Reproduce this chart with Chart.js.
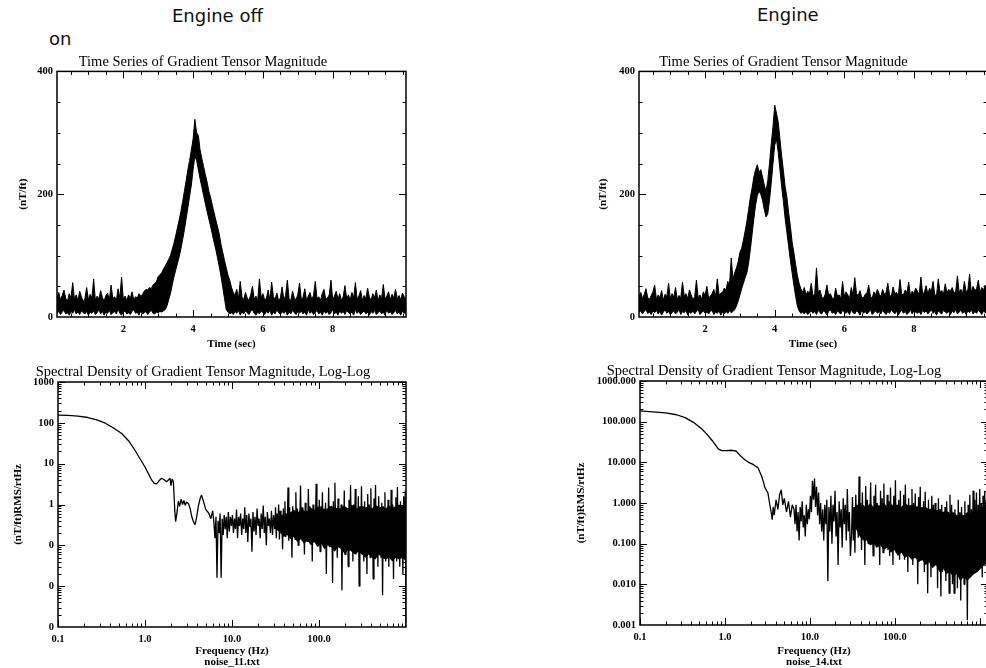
<!DOCTYPE html>
<html>
<head>
<meta charset="utf-8">
<script src="https://cdn.jsdelivr.net/npm/chart.js@4.4.0/dist/chart.umd.min.js"></script>
<style>
  html, body { margin: 0; padding: 0; background: #fff; }
  body { width: 986px; height: 668px; position: relative; overflow: hidden; }
  canvas { position: absolute; }
  .head { position: absolute; font-family: "DejaVu Sans", sans-serif; font-size: 18px; line-height: 18px; color: #111; white-space: nowrap; }
</style>
</head>
<body>
<div class="head" style="left:172px; top:7px">Engine off</div>
<div class="head" style="left:49px; top:30px">on</div>
<div class="head" style="left:757px; top:6px">Engine</div>
<canvas id="offTime" width="420" height="320" style="left:0; top:40px"></canvas>
<canvas id="onTime" width="430" height="320" style="left:580px; top:40px"></canvas>
<canvas id="offSpec" width="420" height="313" style="left:0; top:355px"></canvas>
<canvas id="onSpec" width="450" height="313" style="left:560px; top:355px"></canvas>
<script>
// time series envelopes (top and bottom of the noisy trace), every 0.05 s from 0.1 s
const timeStart = 0.1
const timeStep = 0.05

const offTimeUpper = [
  32, 40, 28, 35, 44, 30, 26, 38, 31, 56, 29, 36, 27, 42, 33, 25, 30, 48, 28, 37,
  31, 62, 27, 34, 29, 43, 32, 26, 35, 39, 28, 52, 30, 33, 27, 46, 31, 65, 29, 34,
  27, 36, 30, 41, 28, 33, 31, 38, 34, 37, 42, 45, 44, 48, 46, 52, 55, 58, 66, 69,
  72, 78, 83, 88, 94, 100, 110, 120, 132, 145, 158, 172, 188, 205, 222, 240, 255, 272, 290, 322,
  300, 296, 272, 258, 245, 232, 220, 205, 195, 182, 170, 158, 147, 135, 118, 105, 92, 80, 68, 60,
  48, 40, 36, 45, 30, 58, 33, 28, 40, 31, 27, 36, 50, 29, 34, 26, 62, 32, 38, 28,
  30, 44, 27, 57, 33, 29, 39, 26, 31, 49, 28, 35, 60, 30, 27, 42, 31, 28, 37, 55,
  29, 32, 46, 27, 34, 40, 28, 35, 58, 30, 33, 27, 38, 45, 29, 31, 36, 60, 28, 34,
  42, 29, 38, 27, 33, 51, 30, 36, 28, 40, 31, 56, 29, 34, 43, 27, 35, 30, 47, 32,
  28, 38, 31, 44, 27, 36, 30, 53, 29, 34, 41, 28, 37, 31, 45, 30, 35, 28, 39, 33,
  30
]
const offTimeLower = [
  6, 9, 4, 8, 11, 5, 7, 3, 9, 6, 12, 5, 8, 4, 10, 7, 5, 9, 3, 8,
  6, 10, 4, 7, 12, 5, 9, 3, 8, 6, 11, 4, 7, 9, 5, 13, 6, 3, 8, 10,
  5, 7, 4, 9, 12, 6, 8, 3, 10, 5, 7, 9, 4, 8, 11, 6, 5, 8, 7, 9,
  8, 10, 12, 18, 28, 38, 52, 65, 76, 87, 98, 111, 126, 142, 160, 178, 197, 215, 240, 262,
  255, 240, 225, 212, 198, 185, 172, 160, 148, 135, 122, 110, 96, 82, 66, 48, 30, 12, 8, 5,
  7, 4, 9, 6, 11, 3, 8, 5, 10, 7, 4, 9, 12, 6, 3, 8, 5, 10, 7, 4,
  9, 6, 11, 3, 8, 5, 12, 7, 4, 9, 6, 10, 3, 8, 5, 11, 7, 4, 9, 6,
  10, 5, 8, 3, 12, 6, 9, 4, 7, 11, 5, 8, 3, 10, 6, 9, 4, 7, 12, 5,
  8, 3, 10, 6, 9, 4, 11, 7, 5, 8, 3, 12, 6, 9, 4, 7, 10, 5, 8, 3,
  9, 6, 11, 4, 7, 10, 5, 8, 3, 12, 6, 9, 4, 7, 11, 5, 8, 3, 10, 6,
  7
]

const onTimeUpper = [
  34, 40, 30, 37, 46, 32, 28, 35, 41, 52, 29, 36, 31, 43, 27, 37, 33, 55, 30, 38,
  32, 48, 29, 35, 31, 57, 34, 38, 30, 44, 36, 28, 33, 60, 31, 36, 29, 41, 35, 50,
  31, 34, 38, 45, 33, 62, 36, 39, 40, 47, 44, 58, 52, 96, 62, 72, 80, 90, 105, 112,
  125, 140, 156, 175, 195, 210, 228, 240, 248, 236, 240, 228, 215, 205, 222, 250, 282, 310, 345, 332,
  318, 290, 262, 238, 212, 195, 170, 148, 122, 105, 86, 68, 55, 46, 40, 48, 36, 42, 38, 55,
  34, 38, 80, 40, 44, 33, 30, 37, 52, 35, 38, 31, 29, 47, 34, 36, 30, 58, 33, 41,
  36, 30, 48, 35, 64, 38, 35, 43, 32, 31, 37, 39, 52, 34, 30, 41, 36, 45, 38, 33,
  45, 37, 40, 55, 36, 33, 49, 38, 40, 35, 61, 37, 36, 44, 39, 57, 34, 42, 38, 47,
  42, 36, 65, 38, 40, 51, 37, 47, 41, 58, 36, 35, 62, 40, 43, 37, 54, 39, 45, 42,
  48, 39, 42, 67, 40, 45, 38, 58, 41, 44, 70, 39, 50, 43, 46, 60, 40, 48, 44, 52,
  45
]
const onTimeLower = [
  7, 10, 5, 9, 12, 6, 8, 4, 10, 7, 11, 5, 9, 3, 8, 12, 6, 9, 4, 7,
  10, 5, 8, 12, 4, 9, 7, 11, 3, 8, 6, 10, 5, 9, 12, 4, 7, 10, 6, 8,
  5, 9, 11, 4, 8, 6, 10, 3, 8, 5, 9, 6, 10, 7, 9, 12, 18, 26, 36, 46,
  55, 64, 72, 88, 110, 135, 160, 182, 198, 205, 200, 190, 175, 163, 168, 190, 218, 250, 280, 290,
  268, 240, 212, 188, 160, 138, 115, 92, 72, 52, 34, 18, 10, 6, 8, 5, 9, 4, 7, 10,
  6, 9, 4, 11, 7, 5, 10, 8, 3, 9, 12, 6, 8, 4, 10, 7, 5, 11, 8, 6,
  9, 4, 12, 7, 5, 10, 8, 3, 11, 6, 9, 5, 8, 12, 4, 7, 10, 6, 9, 5,
  11, 7, 4, 9, 6, 12, 8, 5, 10, 3, 8, 11, 6, 9, 4, 7, 12, 5, 10, 8,
  6, 9, 4, 11, 7, 10, 5, 8, 12, 6, 9, 3, 10, 7, 5, 11, 8, 6, 9, 4,
  10, 7, 12, 5, 8, 11, 6, 9, 4, 10, 7, 12, 5, 9, 6, 11, 8, 4, 10, 7,
  9
]

// spectra: smooth low-frequency part read point by point
const offLowFreq = [0.1, 0.13, 0.17, 0.22, 0.28, 0.35, 0.43, 0.54, 0.65, 0.77, 0.88, 1.0, 1.1, 1.19, 1.28, 1.36, 1.45, 1.55, 1.65, 1.77, 1.86, 1.94, 1.99, 2.05, 2.12, 2.2, 2.25, 2.32, 2.42, 2.5, 2.6, 2.7, 2.8, 2.9, 3.0, 3.16, 3.3, 3.45, 3.6, 3.76, 3.9, 4.1, 4.3, 4.47, 4.7, 5.0, 5.4, 5.7, 6.0]
const offLowPsd = [155, 152, 146, 135, 118, 98, 76, 55, 36, 21, 13, 8.3, 5.6, 4.0, 3.3, 3.2, 3.8, 4.4, 4.1, 3.6, 4.0, 4.4, 2.9, 4.2, 3.6, 0.7, 0.38, 0.6, 1.2, 0.9, 1.35, 1.0, 1.25, 0.95, 1.15, 1.05, 0.8, 0.5, 0.38, 0.32, 0.45, 0.9, 1.4, 1.7, 1.2, 0.75, 0.62, 0.45, 0.7]

// noisy parts, log-spaced bins between the range limits
const offMidRange = [6.2, 30]
const offMidPsd = [
  0.35, 0.15, 0.5, 0.016, 0.4, 0.2, 0.6, 0.016, 0.45, 0.18, 0.55, 0.25, 0.5, 0.15, 0.65, 0.22, 0.5, 0.3,
  0.55, 0.2, 0.45, 0.25, 0.75, 0.15, 0.5, 0.3, 0.6, 0.18, 0.45, 0.25, 0.85, 0.2, 0.55, 0.12, 0.6, 0.28,
  0.45, 0.07, 0.65, 0.22, 0.5, 0.18, 0.8, 0.3, 0.45, 0.15, 0.6, 0.25, 0.95, 0.2, 0.5, 0.1, 0.65, 0.3,
  0.45, 0.2, 0.7, 0.18, 0.55
]
const offHighRange = [31, 1000]
const offHighPsd = [
  0.25, 0.85, 0.15, 0.6, 0.3, 1.0, 0.14, 0.7, 0.25, 0.55,
  0.08, 0.8, 0.2, 1.2, 0.16, 0.6, 0.35, 2.6, 0.13, 0.85,
  0.22, 0.55, 0.05, 0.9, 0.3, 0.7, 0.14, 2.0, 0.2, 0.8,
  0.1, 0.6, 0.25, 2.9, 0.15, 0.85, 0.3, 0.5, 0.06, 1.1,
  0.2, 0.7, 0.12, 2.4, 0.25, 0.9, 0.14, 0.65, 0.04, 1.0,
  0.18, 0.75, 0.3, 3.2, 0.1, 0.8, 0.22, 1.3, 0.07, 0.9,
  0.15, 2.0, 0.12, 0.7, 0.3, 1.1, 0.02, 0.8, 0.2, 2.6,
  0.09, 0.9, 0.25, 0.6, 0.012, 1.2, 0.14, 3.4, 0.2, 0.7,
  0.05, 1.4, 0.12, 0.8, 0.3, 1.0, 0.008, 0.9, 0.15, 2.2,
  0.06, 0.85, 0.2, 0.6, 0.03, 1.3, 0.1, 3.0, 0.22, 0.7,
  0.04, 1.0, 0.12, 2.4, 0.06, 0.8, 0.25, 1.6, 0.01, 0.9,
  0.1, 2.8, 0.15, 0.65, 0.04, 1.2, 0.08, 0.75, 0.02, 1.8,
  0.2, 1.0, 0.05, 2.5, 0.12, 0.7, 0.015, 1.4, 0.1, 3.0,
  0.06, 0.9, 0.03, 1.6, 0.2, 0.8, 0.05, 1.1, 0.006, 0.9,
  0.12, 2.0, 0.04, 0.75, 0.18, 1.3, 0.03, 0.85, 0.1, 2.3,
  0.05, 1.0, 0.015, 0.7, 0.14, 1.5, 0.04, 2.7, 0.08, 0.8,
  0.03, 1.2, 0.11, 0.9, 0.02, 1.6, 0.07, 2.2, 0.001
]
// dense core of the noise where the trace is solid black
const offBandRange = [30, 1000]
const offBandUpper = [0.3, 0.42, 0.5, 0.6, 0.55, 0.65, 0.75, 0.6, 0.8, 0.7, 0.65, 0.85, 0.7, 0.9, 0.75, 0.8, 0.7, 0.95, 0.8, 0.85, 0.75, 0.9, 0.8, 1.0, 0.85, 0.8, 0.95, 0.85, 0.9, 0.8, 1.0, 0.85, 0.9, 0.8, 0.95, 0.85, 0.9, 1.0, 0.85, 0.9]
const offBandLower = [0.3, 0.24, 0.2, 0.16, 0.18, 0.14, 0.16, 0.12, 0.14, 0.11, 0.13, 0.1, 0.12, 0.09, 0.11, 0.08, 0.1, 0.09, 0.07, 0.09, 0.08, 0.06, 0.08, 0.07, 0.06, 0.07, 0.06, 0.05, 0.06, 0.05, 0.045, 0.06, 0.05, 0.045, 0.05, 0.04, 0.05, 0.045, 0.05, 0.04]

const onLowFreq = [0.1, 0.14, 0.2, 0.27, 0.34, 0.43, 0.54, 0.63, 0.71, 0.78, 0.84, 0.92, 1.03, 1.2, 1.35, 1.5, 1.7, 1.9, 2.14, 2.3, 2.45, 2.55, 2.7, 2.85, 2.95, 3.1, 3.2, 3.35, 3.5, 3.6, 3.7, 3.8, 4.0, 4.2, 4.4, 4.6, 4.8, 5.0, 5.3, 5.6, 5.9, 6.2]
const onLowPsd = [185, 175, 165, 148, 126, 95, 65, 46, 34, 26, 21, 19.5, 19.5, 19.8, 19, 15, 11.8, 10, 8.9, 8.0, 7.4, 6.0, 4.6, 3.2, 2.4, 2.0, 1.8, 1.0, 0.6, 0.39, 0.8, 0.5, 1.2, 0.7, 1.6, 2.1, 0.9, 1.3, 0.6, 1.1, 0.45, 0.9]

const onMidRange = [6.5, 30]
const onMidPsd = [
  0.7, 0.3, 0.9, 0.2, 0.6, 0.12, 0.8, 0.35, 1.1, 0.25, 0.5, 0.15, 0.9, 0.3, 0.7, 0.4,
  1.5, 0.6, 3.5, 1.2, 4.0, 0.8, 2.5, 0.5, 1.8, 0.3, 1.0, 0.2, 0.7, 0.12, 0.9,
  0.3, 1.2, 0.012, 0.8, 0.2, 1.5, 0.1, 0.9, 0.35, 2.0, 0.15, 0.6, 0.03, 1.1, 0.25, 0.7, 0.08, 1.3,
  0.3, 0.9, 0.12, 2.2, 0.2, 0.6, 0.05
]
const onHighRange = [31, 1250]
const onHighPsd = [
  0.2, 1.4, 0.12, 0.8, 0.06, 1.6, 0.25, 0.9, 0.14, 4.5,
  0.3, 1.0, 0.07, 1.8, 0.15, 0.7, 0.03, 2.6, 0.2, 1.2,
  0.1, 0.9, 0.3, 3.2, 0.12, 0.6, 0.05, 1.5, 0.18, 2.8,
  0.08, 1.0, 0.25, 0.7, 0.03, 2.0, 0.14, 1.3, 0.06, 3.0,
  0.2, 0.8, 0.1, 1.6, 0.07, 1.1, 0.05, 2.4, 0.15, 0.8,
  0.03, 1.5, 0.1, 3.6, 0.06, 0.9, 0.2, 1.2, 0.04, 2.0,
  0.09, 0.7, 0.12, 1.6, 0.04, 2.8, 0.1, 0.9, 0.02, 1.3,
  0.06, 0.8, 0.18, 2.2, 0.03, 1.0, 0.08, 1.7, 0.05, 0.6,
  0.01, 1.4, 0.11, 2.5, 0.04, 0.8, 0.07, 1.1, 0.02, 1.9,
  0.09, 0.7, 0.006, 1.2, 0.05, 0.6, 0.015, 1.5, 0.07, 0.9,
  0.03, 1.0, 0.04, 0.55, 0.008, 1.3, 0.06, 0.7, 0.005, 0.9,
  0.02, 0.5, 0.03, 0.8, 0.012, 1.1, 0.04, 0.6, 0.006, 1.6,
  0.03, 0.9, 0.01, 0.5, 0.006, 0.7, 0.02, 0.45, 0.008, 1.2,
  0.025, 0.6, 0.004, 0.8, 0.03, 0.5, 0.01, 1.1, 0.02, 0.4,
  0.0013, 0.9, 0.03, 1.6, 0.015, 0.7, 0.05, 2.0, 0.02, 1.2,
  0.04, 1.8, 0.03, 0.9, 0.08, 2.2, 0.04, 1.0, 0.015, 1.5,
  0.03, 2.0, 0.05, 1.2, 0.02, 1.8
]
const onBandRange = [32, 1250]
const onBandUpper = [0.35, 0.55, 0.7, 0.9, 0.75, 1.0, 0.8, 0.9, 0.85, 1.0, 0.8, 0.95, 0.85, 0.9, 0.8, 1.0, 0.85, 0.9, 0.8, 0.85, 0.75, 0.8, 0.7, 0.75, 0.65, 0.7, 0.6, 0.65, 0.55, 0.6, 0.5, 0.55, 0.5, 0.6, 0.55, 0.7, 0.65, 0.8, 0.75, 0.9]
const onBandLower = [0.35, 0.22, 0.15, 0.12, 0.12, 0.09, 0.1, 0.08, 0.09, 0.07, 0.08, 0.06, 0.07, 0.05, 0.06, 0.045, 0.05, 0.04, 0.045, 0.035, 0.04, 0.03, 0.035, 0.025, 0.03, 0.02, 0.025, 0.018, 0.02, 0.015, 0.018, 0.012, 0.015, 0.012, 0.015, 0.018, 0.02, 0.025, 0.03, 0.035]

// axis ticks and their printed labels
const timeTicks = [2, 4, 6, 8]
const timeLabels = ['2', '4', '6', '8']
const fieldTicks = [0, 200, 400]
const fieldLabels = ['0', '200', '400']
const freqTicks = [0.1, 1, 10, 100]
const freqLabels = ['0.1', '1.0', '10.0', '100.0']
const psdTicks = [0.001, 0.01, 0.1, 1, 10, 100, 1000]
const offPsdLabels = ['0', '0', '0', '1', '10', '100', '1000']
const onPsdLabels = ['0.001', '0.010', '0.100', '1.000', '10.000', '100.000', '1000.000']

Chart.defaults.font.family = '"Liberation Serif", "Times New Roman", serif'
Chart.defaults.color = '#000'
Chart.defaults.animation = false

const timePoints = vals => vals.map((v, i) => ({ x: timeStart + i * timeStep, y: v }))

const logBins = (range, vals) => vals.map((v, i) => ({
  x: range[0] * Math.pow(range[1] / range[0], i / (vals.length - 1)), y: v
}))

// low part as read, then each noisy segment on log-spaced bins
function spectrumPoints(lowFreq, lowPsd, segments) {
  let pts = lowFreq.map((f, i) => ({ x: f, y: lowPsd[i] }))
  segments.forEach(([range, vals]) => { pts = pts.concat(logBins(range, vals)) })
  return pts
}

// filled band between a lower and an upper trace
function bandSets(lower, upper, edgeWidth) {
  return [
    { data: lower, borderColor: '#000', borderWidth: edgeWidth, pointRadius: 0, tension: 0, fill: false },
    { data: upper, borderColor: '#000', borderWidth: edgeWidth, pointRadius: 0, tension: 0,
      fill: '-1', backgroundColor: '#000' }
  ]
}

// tick positions for the inward ticks of the box
function linearMarks(step, from, to) {
  const out = []
  for (let v = from; v <= to + 1e-9; v += step) out.push(v)
  return out
}
function logMinor(lo, hi) {
  const out = []
  for (let d = lo; d < hi; d *= 10) {
    for (let k = 2; k <= 9; k++) out.push(d * k)
  }
  return out
}

// IDL style frame: closed box with ticks pointing inwards on all sides
function boxPlugin(marks) {
  return {
    id: 'idlBox',
    afterDraw(chart) {
      const { ctx, chartArea: a, scales } = chart
      ctx.save()
      ctx.strokeStyle = '#000'
      ctx.lineWidth = 1.5
      ctx.strokeRect(a.left, a.top, a.right - a.left, a.bottom - a.top)
      ctx.lineWidth = 1
      const draw = (scale, vals, len) => {
        ctx.beginPath()
        vals.forEach(v => {
          const p = Math.round(scale.getPixelForValue(v)) + 0.5
          if (scale.isHorizontal()) {
            if (p < a.left || p > a.right) return
            ctx.moveTo(p, a.bottom); ctx.lineTo(p, a.bottom - len)
            ctx.moveTo(p, a.top); ctx.lineTo(p, a.top + len)
          } else {
            if (p < a.top || p > a.bottom) return
            ctx.moveTo(a.left, p); ctx.lineTo(a.left + len, p)
            ctx.moveTo(a.right, p); ctx.lineTo(a.right - len, p)
          }
        })
        ctx.stroke()
      }
      draw(scales.x, marks.xMajor, 7)
      draw(scales.x, marks.xMinor, 3.5)
      draw(scales.y, marks.yMajor, 7)
      draw(scales.y, marks.yMinor, 3.5)
      ctx.restore()
    }
  }
}

function makePanel(id, p) {
  return new Chart(document.getElementById(id), {
    type: 'line',
    data: { datasets: p.datasets },
    options: {
      responsive: false,
      events: [],
      layout: { padding: { left: 0, right: p.padRight, top: 0, bottom: 0 } },
      elements: { line: { borderJoinStyle: 'bevel' } },
      plugins: {
        legend: { display: false },
        tooltip: { enabled: false },
        title: {
          display: true, text: p.title, color: '#000',
          font: { size: 14.5, weight: 'normal' },
          padding: p.titlePad
        }
      },
      scales: {
        x: {
          type: p.xType, min: p.xMin, max: p.xMax,
          grid: { display: false, drawTicks: false },
          border: { display: false },
          afterBuildTicks: s => { s.ticks = p.xTicks.map(v => ({ value: v })) },
          afterFit: s => { s.height = p.xAxisHeight },
          ticks: {
            padding: 6, autoSkip: false, maxRotation: 0,
            font: { size: 10.5, weight: 'bold' },
            callback: (v, i) => p.xLabels[i]
          },
          title: {
            display: true, text: p.xTitle,
            font: { size: 11, weight: 'bold', lineHeight: p.xTitleLine },
            padding: { top: 0, bottom: p.xTitlePad }
          }
        },
        y: {
          type: p.yType, min: p.yMin, max: p.yMax,
          grid: { display: false, drawTicks: false },
          border: { display: false },
          afterBuildTicks: s => { s.ticks = p.yTicks.map(v => ({ value: v })) },
          afterFit: s => { s.width = p.yAxisWidth },
          ticks: {
            padding: 4, autoSkip: false,
            font: { size: 10.5, weight: 'bold' },
            callback: (v, i) => p.yLabels[i]
          },
          title: {
            display: true, text: p.yTitle,
            font: { size: 11, weight: 'bold' },
            padding: { top: p.yTitlePad, bottom: 0 }
          }
        }
      }
    },
    plugins: [boxPlugin(p.marks)]
  })
}

const timeMarks = {
  xMajor: timeTicks,
  xMinor: linearMarks(0.5, 0.5, 10),
  yMajor: fieldTicks,
  yMinor: linearMarks(50, 50, 350)
}
const specMarks = {
  xMajor: [0.1, 1, 10, 100, 1000],
  xMinor: logMinor(0.1, 1000),
  yMajor: psdTicks,
  yMinor: logMinor(0.001, 1000)
}

const timeBase = {
  title: 'Time Series of Gradient Tensor Magnitude',
  titlePad: { top: 13, bottom: 1 },
  xType: 'linear', xMin: 0.1, xMax: 10.1, xTicks: timeTicks, xLabels: timeLabels,
  xTitle: 'Time (sec)', xTitleLine: 1.2, xTitlePad: 9.4, xAxisHeight: 43,
  yType: 'linear', yMin: 0, yMax: 400, yTicks: fieldTicks, yLabels: fieldLabels,
  yTitle: '(nT/ft)', yTitlePad: 16.4,
  marks: timeMarks
}

makePanel('offTime', Object.assign({}, timeBase, {
  datasets: bandSets(timePoints(offTimeLower), timePoints(offTimeUpper), 1),
  padRight: 14, yAxisWidth: 57
}))

makePanel('onTime', Object.assign({}, timeBase, {
  datasets: bandSets(timePoints(onTimeLower), timePoints(onTimeUpper), 1),
  padRight: 23, yAxisWidth: 59
}))

const specBase = {
  title: 'Spectral Density of Gradient Tensor Magnitude, Log-Log',
  xType: 'logarithmic', xMin: 0.1, xTicks: freqTicks, xLabels: freqLabels,
  xTitleLine: 1.0, xTitlePad: 0,
  yType: 'logarithmic', yMin: 0.001, yMax: 1000, yTicks: psdTicks,
  yTitle: '(nT/ft)RMS/rtHz',
  marks: specMarks
}

const spectrumLine = pts => ({ data: pts, borderColor: '#000', borderWidth: 1.3, pointRadius: 0, tension: 0, fill: false })

makePanel('offSpec', Object.assign({}, specBase, {
  datasets: bandSets(logBins(offBandRange, offBandLower), logBins(offBandRange, offBandUpper), 0).concat([
    spectrumLine(spectrumPoints(offLowFreq, offLowPsd, [[offMidRange, offMidPsd], [offHighRange, offHighPsd]]))
  ]),
  titlePad: { top: 8, bottom: 1.6 },
  xMax: 1000, xTitle: ['Frequency (Hz)', 'noise_11.txt'], xAxisHeight: 41,
  yLabels: offPsdLabels, yAxisWidth: 58, yTitlePad: 11.4, padRight: 14
}))

makePanel('onSpec', Object.assign({}, specBase, {
  datasets: bandSets(logBins(onBandRange, onBandLower), logBins(onBandRange, onBandUpper), 0).concat([
    spectrumLine(spectrumPoints(onLowFreq, onLowPsd, [[onMidRange, onMidPsd], [onHighRange, onHighPsd]]))
  ]),
  titlePad: { top: 7, bottom: 1.6 },
  xMax: 1250, xTitle: ['Frequency (Hz)', 'noise_14.txt'], xAxisHeight: 43,
  yLabels: onPsdLabels, yAxisWidth: 80, yTitlePad: 14.4, padRight: 22
}))
</script>
</body>
</html>
